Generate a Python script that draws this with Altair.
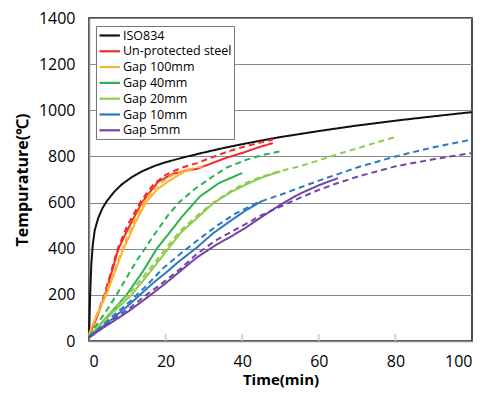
import altair as alt
import pandas as pd

# ---- data ----
series_names = ["ISO834", "Un-protected steel", "Gap 100mm", "Gap 40mm",
                "Gap 20mm", "Gap 10mm", "Gap 5mm"]
series_colors = ["#111111", "#f42a2a", "#ffb22c", "#2db24e", "#8fcb4f",
                 "#2a78c4", "#7344a4"]

iso_t = [0, 0.3, 0.6, 1, 1.5, 2.4, 3.5, 4.6, 6.5, 8.5, 11, 13.8, 17, 20, 25,
         30, 35, 40, 45, 50, 60, 70, 80, 90, 100]
iso_T = [20, 200, 330, 420, 480, 533, 575, 605, 645, 678, 708, 735, 758, 775,
         797, 817, 836, 853, 869, 884, 910, 934, 955, 974, 992]

steel_t = [0, 2, 4.2, 7.7, 10, 13.8, 18, 22, 25, 28, 32, 36, 40, 44, 48]
steel_T = [20, 100, 200, 400, 480, 600, 690, 725, 738, 745, 770, 795, 815, 838, 858]
steel_dash_t = [0, 2, 4, 7.5, 10, 13.5, 16.8, 20, 24, 28, 32, 36, 40, 44, 48]
steel_dash_T = [20, 110, 200, 400, 500, 605, 678, 720, 750, 770, 795, 820, 840, 857, 873]

g100_t = [0, 2, 4.5, 9, 10.3, 12, 15, 18, 20.7, 23, 25, 27]
g100_T = [30, 110, 200, 400, 446, 510, 605, 660, 692, 715, 735, 745]
g100_dash_t = [0, 2, 4.5, 9, 12, 15, 18, 21, 24, 27, 30]
g100_dash_T = [25, 110, 210, 410, 530, 620, 675, 712, 735, 748, 758]

g40_t = [0, 2.3, 5, 9.8, 14, 17.7, 22, 24, 29, 34, 40]
g40_T = [20, 60, 110, 200, 300, 400, 490, 533, 627, 685, 728]
g40_dash_t = [0, 2, 4.5, 7.2, 10, 12.5, 14.6, 16.4, 20.7, 23.8, 27.7, 32.5, 36, 41.2, 45, 50]
g40_dash_T = [20, 70, 130, 200, 280, 350, 400, 446, 547, 605, 660, 715, 752, 786, 805, 822]

g20_t = [0, 3, 6, 11.1, 16, 20.7, 24, 28, 32.5, 37, 41, 45, 50]
g20_T = [20, 70, 120, 200, 300, 400, 470, 530, 598, 645, 678, 708, 735]
g20_dash_t = [0, 3, 6, 11, 16, 20.7, 24, 28, 32.5, 37, 41, 45, 50, 55, 60, 65, 70, 75, 80]
g20_dash_T = [20, 75, 130, 215, 315, 415, 480, 540, 600, 650, 685, 712, 737, 757,
              783, 810, 835, 860, 884]

g10_t = [0, 3, 6, 10, 13.3, 17, 20, 23.5, 28, 32.5, 36.8, 41.2, 45]
g10_T = [20, 55, 95, 150, 200, 255, 295, 345, 403, 468, 519, 569, 605]
g10_dash_t = [0, 3, 6, 10.7, 15, 19.4, 24, 28, 33, 38, 44, 50, 60, 70, 80, 90, 100]
g10_dash_T = [20, 60, 105, 172, 240, 316, 380, 432, 495, 550, 600, 634, 695, 752,
              800, 840, 873]

g5_t = [0, 3, 6.3, 10, 15, 20, 24, 28, 33, 37, 41, 45, 50, 55, 60, 65]
g5_T = [15, 50, 85, 125, 186, 250, 305, 360, 415, 452, 492, 537, 591, 638, 675, 706]
g5_dash_t = [0, 3, 6, 10, 15, 20, 24, 28, 33, 37, 41, 45, 50, 55, 60, 65, 70, 80, 90, 100]
g5_dash_T = [15, 50, 90, 135, 200, 262, 315, 375, 435, 472, 508, 545, 583, 620,
             655, 685, 712, 757, 788, 815]

x_ticks = [0, 20, 40, 60, 80, 100]
inner_ticks = [20, 40, 60, 80]
y_ticks = [0, 200, 400, 600, 800, 1000, 1200, 1400]

# ---- build a long table ----
curves = [
    ("ISO834", "solid", iso_t, iso_T),
    ("Un-protected steel", "solid", steel_t, steel_T),
    ("Un-protected steel", "dashed", steel_dash_t, steel_dash_T),
    ("Gap 100mm", "solid", g100_t, g100_T),
    ("Gap 100mm", "dashed", g100_dash_t, g100_dash_T),
    ("Gap 40mm", "solid", g40_t, g40_T),
    ("Gap 40mm", "dashed", g40_dash_t, g40_dash_T),
    ("Gap 20mm", "solid", g20_t, g20_T),
    ("Gap 20mm", "dashed", g20_dash_t, g20_dash_T),
    ("Gap 10mm", "solid", g10_t, g10_T),
    ("Gap 10mm", "dashed", g10_dash_t, g10_dash_T),
    ("Gap 5mm", "solid", g5_t, g5_T),
    ("Gap 5mm", "dashed", g5_dash_t, g5_dash_T),
]
rows = []
for k, (name, style, ts, Ts) in enumerate(curves):
    for i, (t, T) in enumerate(zip(ts, Ts)):
        rows.append({"series": name, "style": style, "key": f"{k}",
                     "t": t, "T": T, "i": i})
df = pd.DataFrame(rows)

FONT = "Open Sans"
W, H = 383, 323

x_scale = alt.Scale(domain=[0, 100], nice=False)
y_scale = alt.Scale(domain=[0, 1400], nice=False)

lines = alt.Chart(df).mark_line(strokeWidth=2, strokeJoin="round").encode(
    x=alt.X("t:Q", scale=x_scale,
            axis=alt.Axis(values=x_ticks, title="Time(min)", grid=False,
                          ticks=False, domainColor="#8a8a8a", domainWidth=1.5,
                          labelFontSize=16, labelPadding=12, labelColor="#000",
                          labelFont=FONT, titleFont=FONT, titleFontSize=15,
                          titleFontWeight="bold", titleColor="#000",
                          titlePadding=3)),
    y=alt.Y("T:Q", scale=y_scale,
            axis=alt.Axis(values=y_ticks, format="d",
                          title="Tempurature(\u2103)",
                          grid=True, gridColor="#8a8a8a", gridWidth=1.2,
                          ticks=False, domainColor="#8a8a8a", domainWidth=1.5,
                          labelFontSize=16, labelPadding=14, labelColor="#000",
                          labelFont=FONT, titleFont=FONT, titleFontSize=16,
                          titleFontWeight="bold", titleColor="#000",
                          titlePadding=8)),
    color=alt.Color("series:N",
                    scale=alt.Scale(domain=series_names, range=series_colors),
                    legend=alt.Legend(title=None, orient="none", legendX=7,
                                      legendY=8, symbolType="M-1,0H2.4",
                                      symbolSize=144, symbolStrokeWidth=2.2,
                                      labelFont=FONT, labelFontSize=12.5,
                                      labelColor="#000", labelOffset=10,
                                      rowPadding=1.8, padding=2,
                                      strokeColor="#777", fillColor="white",
                                      labelLimit=200)),
    strokeDash=alt.StrokeDash("style:N",
                              scale=alt.Scale(domain=["solid", "dashed"],
                                              range=[[1, 0], [6, 4]]),
                              legend=None),
    detail="key:N",
    order="i:Q",
)

tick_df = pd.DataFrame({"t": inner_ticks})
ticks = alt.Chart(tick_df).mark_rule(color="#c8c8c8", strokeWidth=1.5).encode(
    x=alt.X("t:Q", scale=x_scale),
    y=alt.value(H - 7),
    y2=alt.value(H),
)

chart = alt.layer(ticks, lines).properties(
    width=W, height=H,
    autosize=alt.AutoSizeParams(type="none"),
    padding={"left": 81, "top": 10, "right": 17, "bottom": 48},
).configure_view(stroke="#111", strokeWidth=1.5)

chart.save("out.html", embed_options={"renderer": "svg", "actions": False})
